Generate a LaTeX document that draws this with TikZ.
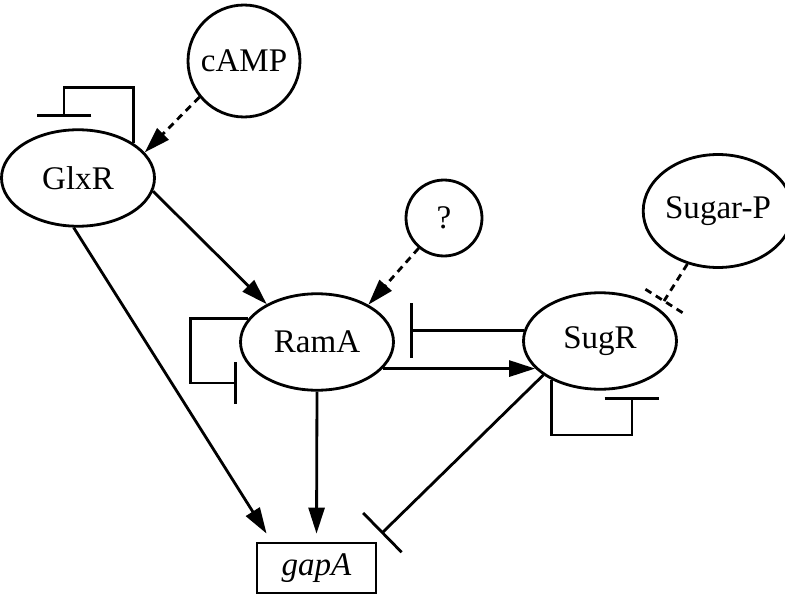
\documentclass[tikz,border=0pt]{standalone}
\usepackage{fontspec}
\setmainfont{Liberation Serif}
\usetikzlibrary{shapes,arrows.meta,positioning,calc}

\begin{document}
\begin{tikzpicture}[
    x=0.02cm, y=-0.02cm,
    every node/.style={font=\fontsize{18.8}{22}\selectfont},
    prot/.style={ellipse, draw, line width=1.6pt, minimum width=3.06cm, minimum height=1.93cm, inner sep=0pt},
    sig/.style={circle, draw, line width=1.6pt, inner sep=0pt},
    gene/.style={rectangle, draw, line width=1.6pt, minimum width=2.38cm, minimum height=1cm},
    act/.style={-{Triangle[length=0.52cm,width=0.32cm]}, line width=1.6pt},
    inh/.style={-{Bar[width=1.1cm]}, line width=1.6pt},
    dsh/.style={dash pattern=on 4pt off 3pt}
]
    \useasboundingbox (0,0) rectangle (785,595);

    \node[prot] (glxr) at (78,178) {GlxR};
    \node[prot] (rama) at (317,342) {RamA};
    \node[prot] (sugr) at (600,341) {SugR};
    \node[gene] (gapa) at (316.5,568) {\textit{gapA}};

    \node[sig, minimum size=2.24cm] (camp) at (244,61) {cAMP};
    \node[sig, minimum size=1.52cm] (q) at (444,218) {?};
    \node[ellipse, draw, line width=1.6pt, minimum width=2.54cm, minimum height=2.26cm, inner sep=0pt] (sugp) at (718,211) {Sugar-P};

    % self repression
    \coordinate (glxrbar) at (64,117);
    \coordinate (ramabar) at (237,383);
    \coordinate (sugrbar) at (632,397);
    \draw[inh] (glxr.32) -- ++(0,-56) -| (glxrbar);
    \draw[inh, -{Bar[width=0.84cm]}] (rama.161) -- ++(-58,0) |- (ramabar);
    \draw[inh] (sugr.219) -- ++(0,55) -| (sugrbar);

    \draw[act, dsh] (camp.219) -- (glxr.21);
    \draw[act] (glxr.-10) -- (rama.143);
    \draw[act] (glxr.265) -- ($(gapa.north west)+(11,-8)$);
    \draw[act, dsh] (q.230) -- (rama.36);
    \draw[act] (rama.south) -- ($(gapa.north)+(0,-8)$);
    \draw[act] (rama.-22) -- (rama.-22 -| sugr.203);
    \draw[inh] (sugr.172) -- ($(sugr.172 -| rama.east)+(15,0)$);
    \draw[inh] (sugr.211) -- ($(gapa.north east)+(4,-8)$);

    % sugar phosphate, dashed bar
    \coordinate (sugpend) at (664,301);
    \draw[dsh, line width=1.6pt] (sugp.240) -- (sugpend);
    \draw[dsh, line width=1.6pt] ($(sugpend)!0.44cm!90:(sugp.240)$) -- ($(sugpend)!0.44cm!-90:(sugp.240)$);
\end{tikzpicture}
\end{document}
